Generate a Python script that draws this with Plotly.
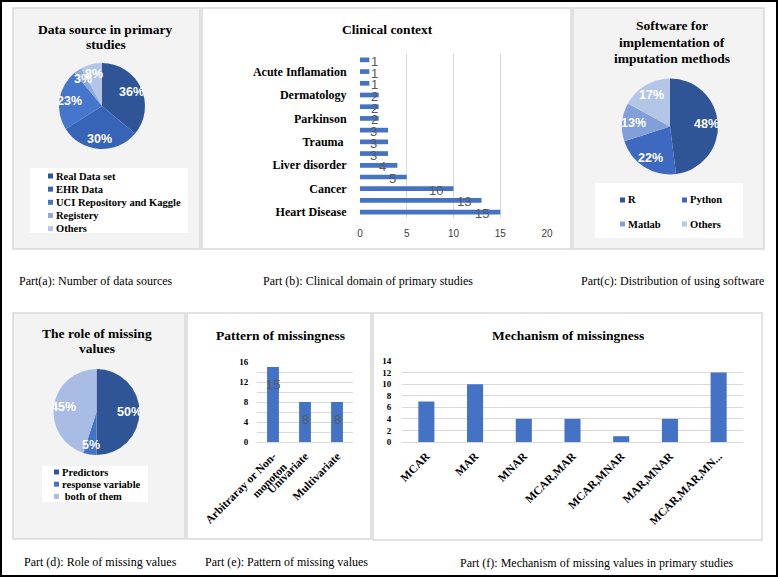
import math
import plotly.graph_objects as go

W, H = 778, 577
SERIF = "Liberation Serif"
SANS = "Liberation Sans"
BAR = "#4472C4"
GRID = "#D9D9D9"

# ---------------- data ----------------
source_labels = ["Real Data set", "EHR Data", "UCI Repository and Kaggle", "Registery", "Others"]
source_values = [36, 30, 23, 3, 8]
source_colors = ["#2F5597", "#3864B8", "#4675CC", "#8EA9DB", "#B4C6E7"]

clinical_labels = ["Heart Disease", "", "Cancer", "", "Liver disorder", "", "Trauma ", "",
                   "Parkinson", "", "Dermatology", "", "Acute Inflamation", ""]
clinical_values = [15, 13, 10, 5, 4, 3, 3, 3, 2, 2, 2, 1, 1, 1]
clinical_ticks = [0, 5, 10, 15, 20]

software_labels = ["R", "Python", "Matlab", "Others"]
software_values = [48, 22, 13, 17]
software_colors = ["#2F5597", "#3D6AC0", "#829FD9", "#B4C6E7"]

role_labels = ["Predictors", "response variable", " both of them"]
role_values = [50, 5, 45]
role_colors = ["#2F5597", "#4472C4", "#A9BDE4"]

pattern_labels = ["Arbitraray or Non-<br>monoton", "Univariate", "Multivariate"]
pattern_values = [15, 8, 8]

mechanism_labels = ["MCAR", "MAR", "MNAR", "MCAR,MAR", "MCAR,MNAR", "MAR,MNAR", "MCAR,MAR,MN..."]
mechanism_values = [7, 10, 4, 4, 1, 4, 12]


def px(x):
    return x / W


def py(y):
    return 1 - y / H


fig = go.Figure()
shapes = []
annotations = []


def rect(x0, y0, x1, y1, fill="rgba(0,0,0,0)", line="#D9D9D9", lw=1.5, layer="below"):
    shapes.append(dict(type="rect", xref="paper", yref="paper",
                       x0=px(x0), x1=px(x1), y0=py(y1), y1=py(y0),
                       fillcolor=fill, line=dict(color=line, width=lw), layer=layer))


def text(x, y, s, size=12, bold=False, family=SERIF, color="black", xanchor="center", yanchor="middle"):
    annotations.append(dict(xref="paper", yref="paper", x=px(x), y=py(y), text=s, showarrow=False,
                            xanchor=xanchor, yanchor=yanchor,
                            font=dict(family=family, size=size, color=color,
                                      weight="bold" if bold else "normal")))


# ---------------- panels ----------------
HATCH = "#F3F3F3"
rect(1, 1, 777, 576, line="black", lw=2)
rect(13, 8, 200, 249, fill=HATCH)
rect(202, 8, 571, 249, fill="white")
rect(573, 8, 764, 249, fill=HATCH)
rect(13, 313, 185, 539, fill=HATCH)
rect(187, 313, 371, 539, fill="white")
rect(373, 313, 762, 540, fill="white")

# legend white boxes
rect(30, 168, 188, 233, fill="white", line="rgba(0,0,0,0)", lw=0)
rect(595, 183, 743, 238, fill="white", line="rgba(0,0,0,0)", lw=0)
rect(42, 466, 148, 502, fill="white", line="rgba(0,0,0,0)", lw=0)


# ---------------- pies ----------------
def add_pie(labels, values, colors, cx, cy, r, fsize=12.5, frac=0.77):
    fig.add_trace(go.Pie(labels=labels, values=values, sort=False, direction="clockwise",
                         rotation=0, textinfo="none", showlegend=False, automargin=False,
                         marker=dict(colors=colors, line=dict(width=0)),
                         domain=dict(x=[px(cx - r), px(cx + r)], y=[py(cy + r), py(cy - r)])))
    total = sum(values)
    cum = 0
    for v in values:
        mid = (cum + v / 2) / total * 2 * math.pi
        cum += v
        x = cx + frac * r * math.sin(mid)
        y = cy - frac * r * math.cos(mid)
        text(x, y, f"{round(100 * v / total)}%", size=fsize, bold=True, family=SANS, color="white")


def legend_item(x, y, label, color, size=10.5):
    shapes.append(dict(type="rect", xref="paper", yref="paper",
                       x0=px(x), x1=px(x + 5), y0=py(y + 2.5), y1=py(y - 2.5),
                       fillcolor=color, line=dict(width=0), layer="above"))
    text(x + 6, y, label, size=size, bold=True, xanchor="left")


add_pie(source_labels, source_values, source_colors, 102, 106, 43)
add_pie(software_labels, software_values, software_colors, 670, 126.5, 48)
add_pie(role_labels, role_values, role_colors, 96.5, 412, 43)

for i, (lab, col) in enumerate(zip(source_labels, source_colors)):
    legend_item(48, 176 + 13.15 * i, lab, col)

soft_pos = [(620, 200), (682, 200), (620, 224), (682, 224)]
for (x, y), lab, col in zip(soft_pos, software_labels, software_colors):
    legend_item(x, y, lab, col)

for i, (lab, col) in enumerate(zip(role_labels, role_colors)):
    legend_item(54, 472 + 12.2 * i, lab, col)

# ---------------- bar (b) ----------------
idx = list(range(len(clinical_values)))
fig.add_trace(go.Bar(x=clinical_values, y=idx, orientation="h", width=0.4,
                     marker=dict(color=BAR, line=dict(width=0)), xaxis="x", yaxis="y",
                     showlegend=False))
for i, v in zip(idx, clinical_values):
    if v >= 3:
        annotations.append(dict(xref="x", yref="y", x=v, y=i, text=str(v), showarrow=False,
                                xanchor="right", xshift=-9, yshift=-1.5,
                                font=dict(family=SANS, size=13, color="#595959")))
    else:
        annotations.append(dict(xref="x", yref="y", x=0, y=i, text=str(v), showarrow=False,
                                xanchor="left", xshift=9, yshift=-1.5,
                                font=dict(family=SANS, size=13, color="#595959")))

# ---------------- bar (e) ----------------
fig.add_trace(go.Bar(x=pattern_labels, y=pattern_values, width=0.37,
                     marker=dict(color=BAR, line=dict(width=0)), xaxis="x2", yaxis="y2",
                     showlegend=False))
for i, v in enumerate(pattern_values):
    annotations.append(dict(xref="x2", yref="y2", x=i, y=v, text=str(v), showarrow=False,
                            yanchor="top", yshift=-8,
                            font=dict(family=SANS, size=13, color="#595959")))

# ---------------- bar (f) ----------------
fig.add_trace(go.Bar(x=mechanism_labels, y=mechanism_values, width=0.33,
                     marker=dict(color=BAR, line=dict(width=0)), xaxis="x3", yaxis="y3",
                     showlegend=False))

# ---------------- titles & captions ----------------
T = 13.5
text(106, 29, "Data source in primary", size=T, bold=True)
text(106, 44, "studies", size=T, bold=True)
text(387, 29, "Clinical context", size=T, bold=True)
text(672, 26, "Software for", size=T, bold=True)
text(672, 42, "implementation of", size=T, bold=True)
text(672, 58, "imputation methods", size=T, bold=True)
text(97, 333, "The role of missing", size=T, bold=True)
text(97, 348, "values", size=T, bold=True)
text(280, 335, "Pattern of missingness", size=T, bold=True)
text(568, 335, "Mechanism of missingness", size=T, bold=True)

text(17, 281, "Part(a): Number of data sources", size=12, xanchor="left")
text(261, 281, "Part (b): Clinical domain of primary studies", size=12, xanchor="left")
text(579, 281, "Part(c): Distribution of using software", size=12, xanchor="left")
text(22, 562, "Part (d): Role of missing values", size=12, xanchor="left")
text(203, 562, "Part (e): Pattern of missing values", size=12, xanchor="left")
text(458, 563, "Part (f): Mechanism of missing values in primary studies", size=12, xanchor="left")

bold_serif = lambda s: dict(family=SERIF, size=s, color="black", weight="bold")

fig.update_layout(
    template="none",
    width=W, height=H, autosize=False,
    margin=dict(l=0, r=0, t=0, b=0, pad=0),
    paper_bgcolor="white", plot_bgcolor="rgba(0,0,0,0)",
    bargap=0.6, showlegend=False,
    shapes=shapes, annotations=annotations,
    xaxis=dict(domain=[px(360), px(547)], range=[0, 20], tickvals=clinical_ticks,
               anchor="y", showgrid=True, gridcolor=GRID, gridwidth=1, zeroline=False,
               showline=False, ticks="outside", ticklen=6, tickcolor="rgba(0,0,0,0)",
               tickfont=dict(family=SANS, size=10, color="#404040"), automargin=False),
    yaxis=dict(domain=[py(218), py(54)], range=[-0.5, len(clinical_values) - 0.5],
               tickvals=idx, ticktext=clinical_labels, anchor="x", showgrid=False,
               zeroline=False, showline=False, ticks="outside", ticklen=10,
               tickcolor="rgba(0,0,0,0)", tickfont=bold_serif(12), automargin=False),
    xaxis2=dict(domain=[px(257), px(353)], anchor="y2", tickangle=-45, showgrid=False,
                zeroline=False, showline=True, linecolor=GRID, linewidth=1,
                tickfont=bold_serif(11.5), ticks="outside", ticklen=2,
                tickcolor="rgba(0,0,0,0)", automargin=False),
    yaxis2=dict(domain=[py(442), py(362)], range=[0, 16], tick0=0, dtick=4, anchor="x2",
                showgrid=True, gridcolor=GRID, zeroline=False, showline=False,
                minor=dict(dtick=2, showgrid=True, gridcolor=GRID),
                ticks="outside", ticklen=6, tickcolor="rgba(0,0,0,0)",
                tickfont=bold_serif(9), automargin=False),
    xaxis3=dict(domain=[px(402), px(743)], anchor="y3", tickangle=-45, showgrid=False,
                zeroline=False, showline=True, linecolor=GRID, linewidth=1,
                tickfont=bold_serif(11.5), ticks="outside", ticklen=2,
                tickcolor="rgba(0,0,0,0)", automargin=False),
    yaxis3=dict(domain=[py(442), py(361)], range=[0, 14], tick0=0, dtick=2, anchor="x3",
                showgrid=True, gridcolor=GRID, zeroline=False, showline=False,
                ticks="outside", ticklen=8, tickcolor="rgba(0,0,0,0)",
                tickfont=bold_serif(9), automargin=False),
)

fig.write_html(
    "out.html",
    config={"displayModeBar": False, "staticPlot": True},
    post_script="document.body.style.margin='0';document.body.style.padding='0';"
                "document.documentElement.style.margin='0';document.body.style.overflow='hidden';",
)
